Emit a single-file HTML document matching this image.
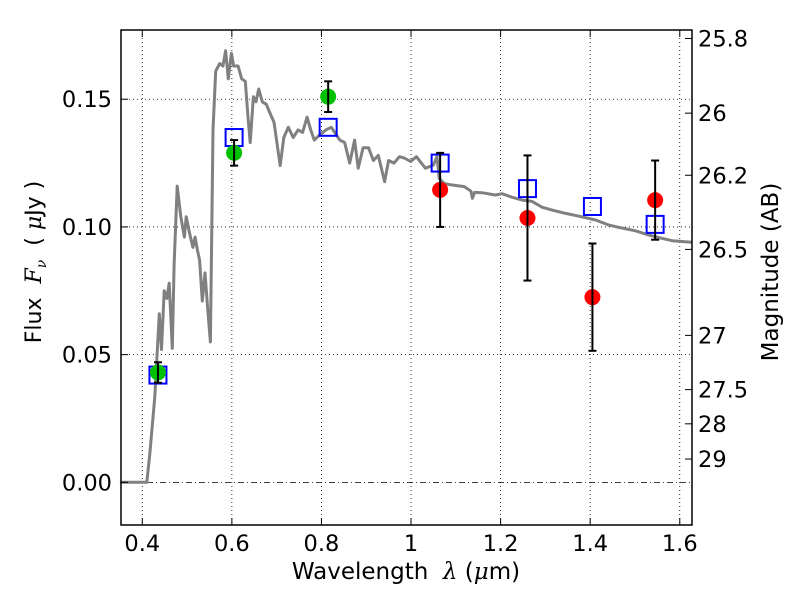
<!DOCTYPE html>
<html><head><meta charset="utf-8"><style>
body{margin:0;background:#fff;}
svg{display:block;font-family:"DejaVu Sans","Liberation Sans",sans-serif;}
</style></head><body>
<svg id="chart" width="800" height="600" viewBox="0 0 800 600">
<rect x="0" y="0" width="800" height="600" fill="#fff"/>
</svg>
<script>
const xTicks=[0.4,0.6,0.8,1.0,1.2,1.4,1.6];
const xTickLabels=["0.4","0.6","0.8","1","1.2","1.4","1.6"];
const yTicks=[0.00,0.05,0.10,0.15];
const yTickLabels=["0.00","0.05","0.10","0.15"];
const magTicks=[25.8,26,26.2,26.5,27,27.5,28,29];
const magTickLabels=["25.8","26","26.2","26.5","27","27.5","28","29"];
const modelWave=[0.35,0.41,0.417,0.428,0.438,0.443,0.449,0.455,0.46,0.467,0.471,0.478,0.486,0.494,0.498,0.505,0.513,0.518,0.523,0.528,0.534,0.54,0.546,0.552,0.558,0.564,0.573,0.58,0.586,0.592,0.599,0.604,0.614,0.622,0.63,0.636,0.641,0.648,0.654,0.66,0.668,0.677,0.684,0.694,0.703,0.708,0.716,0.726,0.737,0.748,0.758,0.768,0.776,0.784,0.796,0.81,0.822,0.841,0.852,0.863,0.874,0.882,0.893,0.905,0.916,0.927,0.941,0.95,0.962,0.974,0.985,0.999,1.012,1.032,1.05,1.058,1.063,1.074,1.088,1.119,1.134,1.137,1.142,1.158,1.188,1.203,1.226,1.248,1.27,1.293,1.315,1.345,1.375,1.412,1.442,1.464,1.501,1.531,1.561,1.583,1.619,1.627];
const modelFlux=[0,0,0.0115,0.0335,0.066,0.052,0.075,0.072,0.078,0.0525,0.085,0.116,0.104,0.096,0.104,0.098,0.092,0.096,0.091,0.087,0.071,0.082,0.068,0.055,0.138,0.161,0.164,0.163,0.169,0.158,0.168,0.163,0.163,0.158,0.157,0.143,0.133,0.151,0.149,0.154,0.149,0.148,0.145,0.141,0.130,0.124,0.135,0.139,0.135,0.138,0.137,0.143,0.138,0.134,0.136,0.138,0.139,0.134,0.133,0.125,0.134,0.123,0.131,0.131,0.126,0.128,0.1177,0.126,0.125,0.1275,0.127,0.1256,0.1275,0.123,0.1242,0.1275,0.119,0.117,0.1165,0.1158,0.114,0.1112,0.1135,0.1134,0.1125,0.113,0.1116,0.1105,0.110,0.1077,0.1066,0.1053,0.1042,0.1027,0.1007,0.0998,0.0985,0.0968,0.0955,0.0946,0.0941,0.094];
const greenWave=[0.435,0.605,0.815];
const greenFlux=[0.043,0.129,0.151];
const greenErr=[0.004,0.005,0.006];
const redWave=[1.065,1.26,1.405,1.545];
const redFlux=[0.1145,0.1035,0.0725,0.1105];
const redErr=[0.0145,0.0245,0.021,0.0155];
const boxWave=[0.435,0.605,0.815,1.065,1.26,1.405,1.545];
const boxFlux=[0.042,0.135,0.139,0.125,0.115,0.108,0.101];

const L=121,R=692,T=30,B=525;
const xmin=0.3525,xmax=1.6273,ymin=-0.0167,ymax=0.1771;
const sx=v=>L+(v-xmin)/(xmax-xmin)*(R-L);
const sy=v=>B-(v-ymin)/(ymax-ymin)*(B-T);
const magToFlux=m=>Math.pow(10,(23.9-m)/2.5);
const svg=document.getElementById('chart');
const NS='http://www.w3.org/2000/svg';
function mk(tag,attrs,parent){const e=document.createElementNS(NS,tag);for(const k in attrs)e.setAttribute(k,attrs[k]);(parent||svg).appendChild(e);return e;}

const grid=mk('g',{});


xTicks.forEach(v=>{mk('line',{x1:sx(v),x2:sx(v),y1:T,y2:B,stroke:'#000','stroke-width':0.8,'stroke-dasharray':'1,3'},grid);});
yTicks.forEach(v=>{if(v!==0)mk('line',{x1:L,x2:R,y1:sy(v),y2:sy(v),stroke:'#000','stroke-width':0.8,'stroke-dasharray':'1,3'},grid);});
const zl=mk('line',{x1:L,x2:R,y1:sy(0),y2:sy(0),stroke:'#000','stroke-width':0.8,'stroke-dasharray':'6,3,1,3'});



const pts=modelWave.map((w,i)=>sx(w).toFixed(1)+','+sy(modelFlux[i]).toFixed(1)).join(' ');
const model=mk('polyline',{points:pts,fill:'none',stroke:'#808080','stroke-width':3,'stroke-linejoin':'round'});



boxWave.forEach((w,i)=>{const r=mk('rect',{x:sx(w)-8.5,y:sy(boxFlux[i])-8.5,width:17,height:17,fill:'none',stroke:'#0000ff','stroke-width':2});

});

function pointSet(ws,fs,es,color,name){ws.forEach((w,i)=>{
 const x=sx(w),y1=sy(fs[i]-es[i]),y2=sy(fs[i]+es[i]);
 const c=mk('circle',{cx:x,cy:sy(fs[i]),r:8,fill:color});
 
 
 const g=mk('g',{stroke:'#000','stroke-width':2});
 
 
 mk('line',{x1:x,x2:x,y1:y1,y2:y2},g);
 mk('line',{x1:x-4,x2:x+4,y1:y1,y2:y1},g);
 mk('line',{x1:x-4,x2:x+4,y1:y2,y2:y2},g);
});}
pointSet(greenWave,greenFlux,greenErr,'#00c000','green-photometry-point');
pointSet(redWave,redFlux,redErr,'#ff0000','red-photometry-point');

const fr=mk('rect',{x:L,y:T,width:R-L,height:B-T,fill:'none',stroke:'#000','stroke-width':1.5});



xTicks.forEach((v,i)=>{const x=sx(v);
 mk('line',{x1:x,x2:x,y1:B,y2:B-7,stroke:'#000','stroke-width':1});
 mk('line',{x1:x,x2:x,y1:T,y2:T+7,stroke:'#000','stroke-width':1});
 const t=mk('text',{x:x,y:B+26,'font-size':22.5,'text-anchor':'middle',fill:'#000'});t.textContent=xTickLabels[i];
 
 });
yTicks.forEach((v,i)=>{const y=sy(v);
 mk('line',{x1:L,x2:L+7,y1:y,y2:y,stroke:'#000','stroke-width':1});
 const t=mk('text',{x:L-9,y:y+8,'font-size':22.5,'text-anchor':'end',fill:'#000'});t.textContent=yTickLabels[i];
 
 });
magTicks.forEach((m,i)=>{const y=sy(magToFlux(m));
 mk('line',{x1:R,x2:R-7,y1:y,y2:y,stroke:'#000','stroke-width':1});
 const t=mk('text',{x:R+6,y:y+8,'font-size':22.5,'text-anchor':'start',fill:'#000'});t.textContent=magTickLabels[i];
 
 });
</script>
<div style="position:absolute;left:0;top:0;width:800px;height:600px;pointer-events:none;font-family:'DejaVu Sans','Liberation Sans',sans-serif;">
 <div style="position:absolute;left:0;width:812px;top:559px;text-align:center;font-size:23px;">Wavelength&nbsp; <i style="font-family:'DejaVu Serif',serif">λ</i> (<i style="font-family:'DejaVu Serif',serif">μ</i>m)</div>
 <div style="position:absolute;left:36px;top:262px;width:0;height:0;"><div style="position:absolute;transform:translate(-50%,-50%) rotate(-90deg);white-space:nowrap;font-size:22px;">Flux&nbsp; <i style="font-family:'DejaVu Serif',serif">F<sub style="font-size:14px">ν</sub></i>&nbsp; ( <i style="font-family:'DejaVu Serif',serif">μ</i>Jy )</div></div>
 <div style="position:absolute;left:771px;top:272px;width:0;height:0;"><div style="position:absolute;transform:translate(-50%,-50%) rotate(-90deg);white-space:nowrap;font-size:23px;">Magnitude (AB)</div></div>
</div>
</body></html>
